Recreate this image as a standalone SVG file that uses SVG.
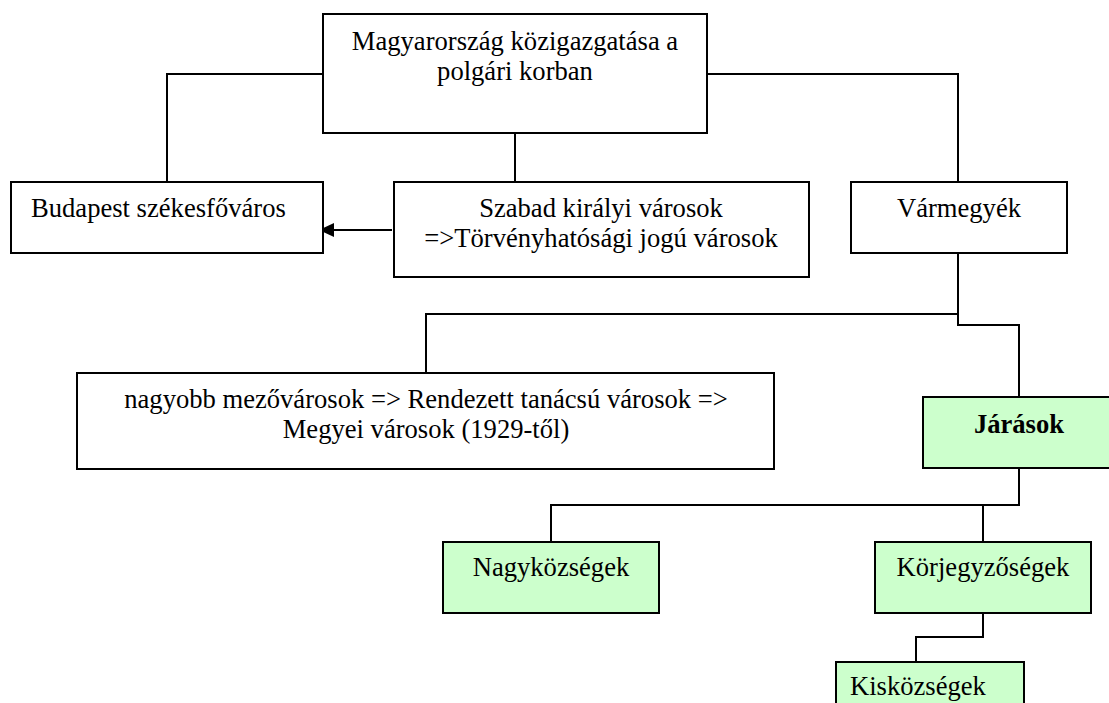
<svg xmlns="http://www.w3.org/2000/svg" width="1109" height="703" viewBox="0 0 1109 703">
<style>
.box{fill:#fff;stroke:#000;stroke-width:2}
.green{fill:#ccffcc;stroke:#000;stroke-width:2}
.conn{fill:none;stroke:#000;stroke-width:2}
text{font-family:"Liberation Serif","Times New Roman",serif;font-size:26.6px;fill:#000}
.c{text-anchor:middle}
.b{font-weight:bold}
</style>
<rect width="1109" height="703" fill="#fff"/>
<g id="connectors">
<polyline class="conn" points="323,74 167,74 167,182"/>
<polyline class="conn" points="707,74 958,74 958,182"/>
<line class="conn" x1="515" y1="133" x2="515" y2="182"/>
<polyline class="conn" points="958,253 958,325 1019,325 1019,397"/>
<polyline class="conn" points="958,314 426,314 426,373"/>
<polyline class="conn" points="1019,468 1019,505 551,505 551,542"/>
<line class="conn" x1="983" y1="505" x2="983" y2="542"/>
<polyline class="conn" points="983,613 983,637 916,637 916,662"/>
<line class="conn" x1="392" y1="230" x2="334" y2="230"/>
<path d="M319,230 L334,223 L334,237 Z" fill="#000"/>
</g>
<g id="top">
<rect class="box" x="323" y="14" width="384" height="119"/>
<text class="c" x="515" y="50">Magyarország közigazgatása a</text>
<text class="c" x="515" y="80">polgári korban</text>
</g>
<g id="budapest">
<rect class="box" x="11" y="182" width="312" height="71"/>
<text x="31" y="217">Budapest székesfőváros</text>
</g>
<g id="szabad">
<rect class="box" x="394" y="182" width="415" height="95"/>
<text class="c" x="601" y="217">Szabad királyi városok</text>
<text class="c" x="601" y="247">=&gt;Törvényhatósági jogú városok</text>
</g>
<g id="varmegyek">
<rect class="box" x="851" y="182" width="216" height="71"/>
<text class="c" x="959" y="217">Vármegyék</text>
</g>
<g id="nagyobb">
<rect class="box" x="77" y="373" width="697" height="96"/>
<text class="c" x="426" y="408">nagyobb mezővárosok =&gt; Rendezett tanácsú városok =&gt;</text>
<text class="c" x="426" y="438">Megyei városok (1929-től)</text>
</g>
<g id="jarasok">
<rect class="green" x="923" y="397" width="200" height="71"/>
<text class="c b" x="1019" y="433">Járások</text>
</g>
<g id="nagykozsegek">
<rect class="green" x="443" y="542" width="216" height="71"/>
<text class="c" x="551" y="576">Nagyközségek</text>
</g>
<g id="korjegyzosegek">
<rect class="green" x="875" y="542" width="216" height="71"/>
<text class="c" x="983" y="576">Körjegyzőségek</text>
</g>
<g id="kiskozsegek">
<rect class="green" x="836" y="662" width="188" height="60"/>
<text x="850" y="695">Kisközségek</text>
</g>
</svg>
